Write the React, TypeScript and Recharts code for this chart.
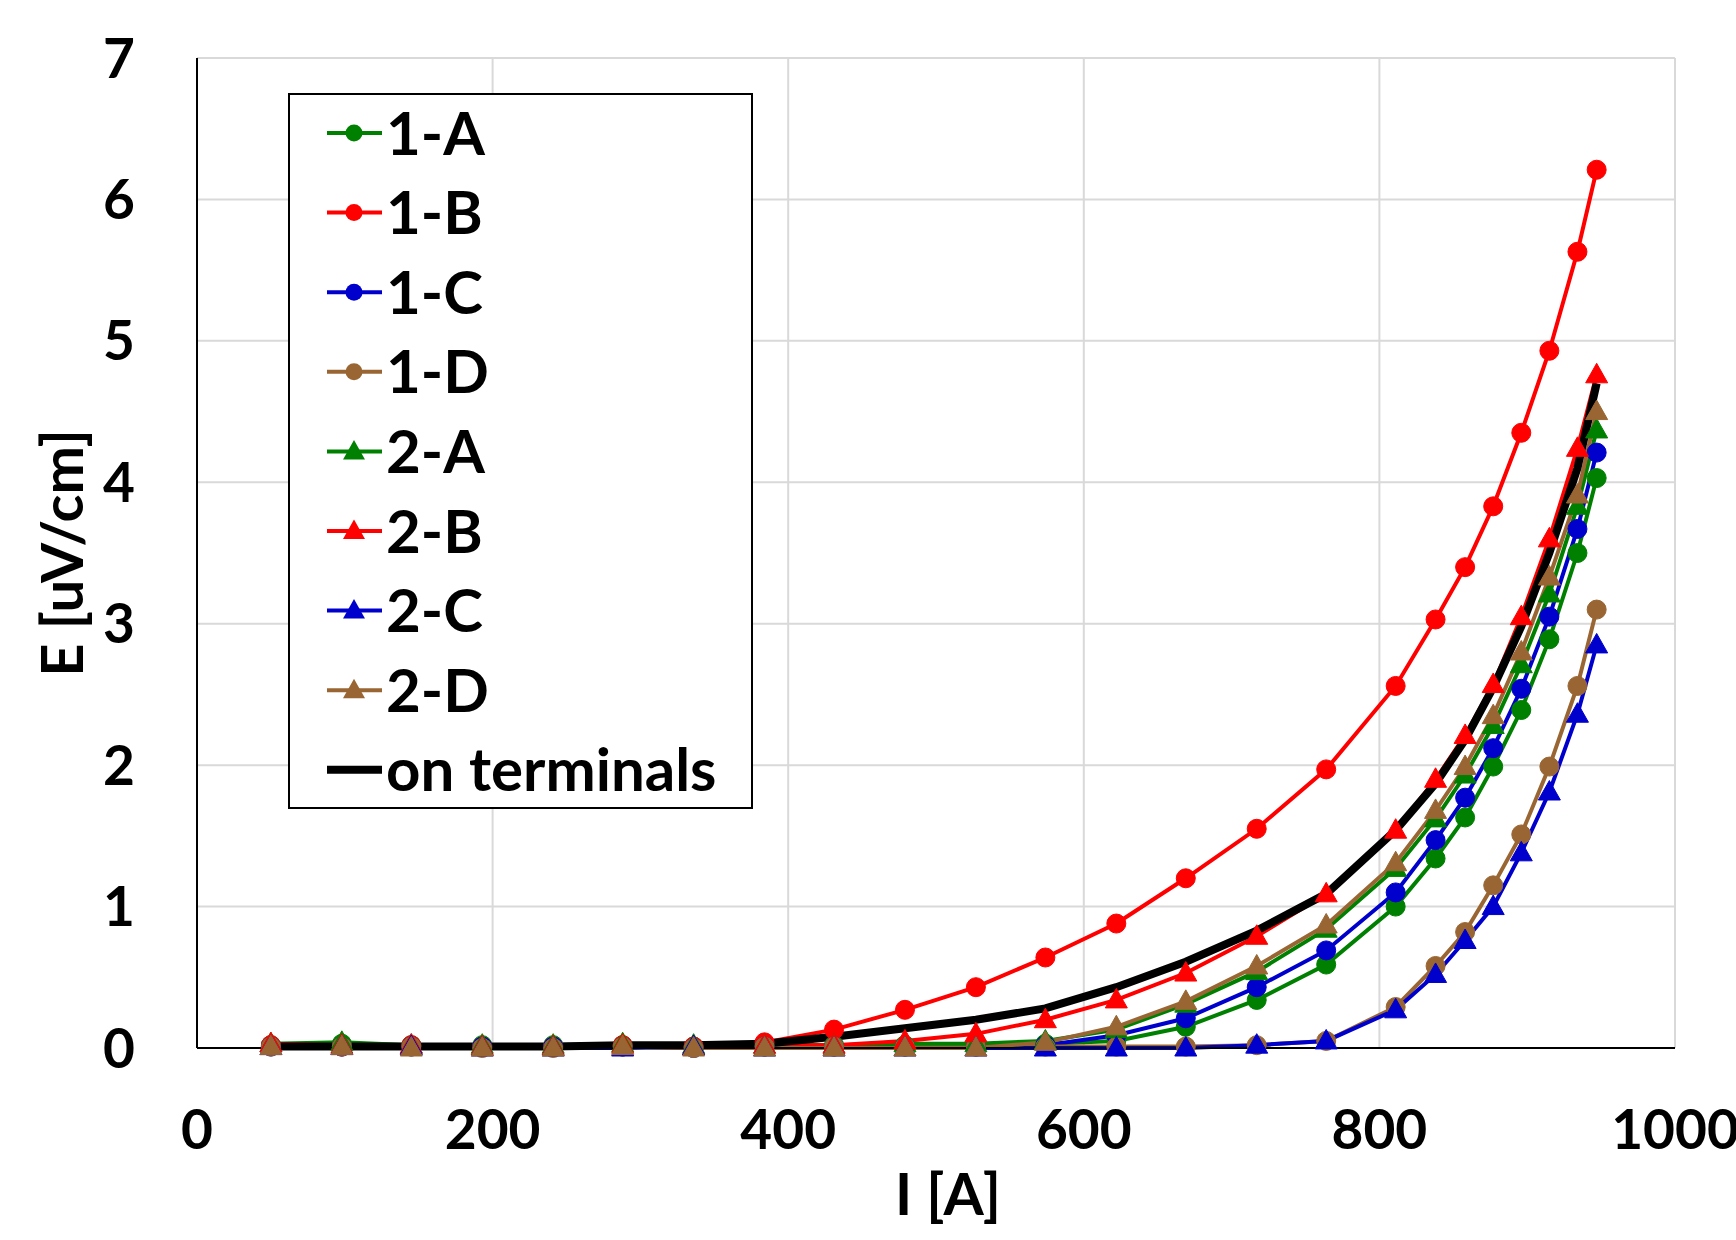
import React from 'react';
import { LineChart, Line, XAxis, YAxis, CartesianGrid, Legend, Label } from 'recharts';

const FONT = 'Lato, "Open Sans", sans-serif';

// Current I [A]
const CURRENT = [50, 98, 145, 193, 241, 288, 336, 384, 431, 479, 527, 574, 622, 669, 717, 764, 811, 838, 858, 877, 896, 915, 934, 947];

// Electric field E [uV/cm]
const E_1A = [0.02, 0.03, 0.02, 0.02, 0.02, 0.02, 0.01, 0.02, 0.02, 0.02, 0.02, 0.03, 0.05, 0.15, 0.34, 0.59, 1.0, 1.34, 1.63, 1.99, 2.39, 2.89, 3.5, 4.03];
const E_1B = [0.02, 0.01, 0.02, 0.01, 0.01, 0.02, 0.01, 0.04, 0.13, 0.27, 0.43, 0.64, 0.88, 1.2, 1.55, 1.97, 2.56, 3.03, 3.4, 3.83, 4.35, 4.93, 5.63, 6.21];
const E_1C = [0.01, 0.01, 0.01, 0.01, 0.01, 0.01, 0.0, 0.01, 0.01, 0.01, 0.01, 0.02, 0.09, 0.21, 0.43, 0.69, 1.1, 1.47, 1.77, 2.12, 2.54, 3.05, 3.67, 4.21];
const E_1D = [0.01, 0.01, 0.01, 0.0, 0.0, 0.01, 0.0, 0.01, 0.01, 0.01, 0.01, 0.01, 0.01, 0.01, 0.02, 0.05, 0.29, 0.58, 0.82, 1.15, 1.51, 1.99, 2.56, 3.1];
const E_2A = [0.03, 0.04, 0.02, 0.02, 0.02, 0.03, 0.02, 0.02, 0.02, 0.03, 0.03, 0.05, 0.13, 0.31, 0.54, 0.84, 1.27, 1.62, 1.93, 2.28, 2.71, 3.21, 3.83, 4.37];
const E_2B = [0.03, 0.02, 0.02, 0.01, 0.01, 0.02, 0.01, 0.02, 0.02, 0.05, 0.1, 0.2, 0.34, 0.53, 0.79, 1.09, 1.54, 1.9, 2.21, 2.57, 3.05, 3.6, 4.24, 4.76];
const E_2C = [0.01, 0.01, 0.01, 0.0, 0.0, 0.0, 0.01, 0.0, 0.0, 0.0, 0.0, 0.0, 0.0, 0.0, 0.02, 0.05, 0.27, 0.52, 0.76, 1.0, 1.38, 1.81, 2.36, 2.85];
const E_2D = [0.01, 0.01, 0.0, 0.0, 0.0, 0.01, 0.0, 0.0, 0.0, 0.0, 0.0, 0.04, 0.15, 0.33, 0.58, 0.87, 1.31, 1.68, 1.99, 2.35, 2.8, 3.33, 3.91, 4.5];
const E_TERM = [0.01, 0.01, 0.01, 0.01, 0.01, 0.02, 0.02, 0.03, 0.08, 0.14, 0.2, 0.28, 0.43, 0.61, 0.83, 1.09, 1.54, 1.87, 2.18, 2.55, 2.98, 3.5, 4.1, 4.7];

const X_TICKS = [0, 200, 400, 600, 800, 1000];
const Y_TICKS = [0, 1, 2, 3, 4, 5, 6, 7];

const GREEN = '#008000';
const RED = '#FF0000';
const BLUE = '#0000CC';
const BROWN = '#996633';

type Shape = 'circle' | 'triangle' | 'none';
const SERIES: { key: string; name: string; color: string; shape: Shape; values: number[] }[] = [
  { key: 's1A', name: '1-A', color: GREEN, shape: 'circle', values: E_1A },
  { key: 's1B', name: '1-B', color: RED, shape: 'circle', values: E_1B },
  { key: 's1C', name: '1-C', color: BLUE, shape: 'circle', values: E_1C },
  { key: 's1D', name: '1-D', color: BROWN, shape: 'circle', values: E_1D },
  { key: 's2A', name: '2-A', color: GREEN, shape: 'triangle', values: E_2A },
  { key: 's2B', name: '2-B', color: RED, shape: 'triangle', values: E_2B },
  { key: 's2C', name: '2-C', color: BLUE, shape: 'triangle', values: E_2C },
  { key: 's2D', name: '2-D', color: BROWN, shape: 'triangle', values: E_2D },
  { key: 'term', name: 'on terminals', color: '#000000', shape: 'none', values: E_TERM },
];

const data = CURRENT.map((x, i) => {
  const row: Record<string, number> = { x };
  SERIES.forEach((s) => {
    row[s.key] = s.values[i];
  });
  return row;
});

const triPoints = (cx: number, cy: number) =>
  `${cx},${cy - 11.5} ${cx - 11},${cy + 8} ${cx + 11},${cy + 8}`;

const triangleDot = (color: string) => (props: any) => {
  const { cx, cy, index } = props;
  if (cx == null || cy == null) return <g key={`t-${index}`} />;
  return <polygon key={`t-${index}`} points={triPoints(cx, cy)} fill={color} stroke={color} strokeWidth={1} />;
};

const LEG_W = 465;
const LEG_H = 716;
const LEG_FS = 60;

const renderLegend = () => (
  <svg width={LEG_W} height={LEG_H} style={{ display: 'block' }}>
    <rect x={1} y={1} width={LEG_W - 2} height={LEG_H - 2} fill="#ffffff" stroke="#000000" strokeWidth={2} />
    {SERIES.map((s, i) => {
      const cy = 40 + i * 79.6;
      return (
        <g key={s.key}>
          <line x1={39} x2={94} y1={cy} y2={cy} stroke={s.color} strokeWidth={s.shape === 'none' ? 8 : 4} />
          {s.shape === 'circle' && <circle cx={66} cy={cy} r={8.5} fill={s.color} />}
          {s.shape === 'triangle' && <polygon points={triPoints(66, cy)} fill={s.color} />}
          <text
            x={98}
            y={cy + LEG_FS * 0.36}
            fontFamily={FONT}
            fontWeight={700}
            fontSize={LEG_FS}
            fill="#000000"
          >
            {s.name}
          </text>
        </g>
      );
    })}
  </svg>
);

const tickStyle = { fill: '#000000', fontSize: 55, fontWeight: 700, fontFamily: FONT };

export default function App() {
  return (
    <div style={{ position: 'absolute', left: 0, top: 0, width: 1736, height: 1240, background: '#ffffff' }}>
      <LineChart
        width={1736}
        height={1240}
        data={data}
        margin={{ top: 58, right: 61, left: 0, bottom: 0 }}
      >
        <CartesianGrid stroke="#d9d9d9" strokeWidth={2} />
        <XAxis
          type="number"
          dataKey="x"
          domain={[0, 1000]}
          ticks={X_TICKS}
          height={192}
          tickSize={0}
          tickMargin={62}
          axisLine={{ stroke: '#000000', strokeWidth: 2 }}
          tickLine={false}
          tick={tickStyle}
          interval={0}
        >
          <Label
            content={(props: any) => {
              const vb = props.viewBox || { x: 197, y: 1048, width: 1478, height: 192 };
              return (
                <text
                  x={vb.x + vb.width / 2 + 12}
                  y={vb.y + 167}
                  textAnchor="middle"
                  fontFamily={FONT}
                  fontWeight={700}
                  fontSize={58}
                  fill="#000000"
                >
                  I [A]
                </text>
              );
            }}
          />
        </XAxis>
        <YAxis
          type="number"
          domain={[0, 7]}
          ticks={Y_TICKS}
          width={197}
          tickSize={0}
          tickMargin={62}
          axisLine={{ stroke: '#000000', strokeWidth: 2 }}
          tickLine={false}
          tick={tickStyle}
          interval={0}
        >
          <Label
            content={(props: any) => {
              const vb = props.viewBox || { x: 0, y: 58, width: 197, height: 990 };
              const cx = vb.x + 83;
              const cy = vb.y + vb.height / 2;
              return (
                <text
                  x={cx}
                  y={cy}
                  transform={`rotate(-90 ${cx} ${cy})`}
                  textAnchor="middle"
                  fontFamily={FONT}
                  fontWeight={700}
                  fontSize={58}
                  fill="#000000"
                >
                  E [uV/cm]
                </text>
              );
            }}
          />
        </YAxis>
        <Legend
          layout="vertical"
          align="center"
          verticalAlign="middle"
          content={renderLegend}
          wrapperStyle={{ left: 288, top: 93, width: LEG_W, height: LEG_H, margin: 0, padding: 0, lineHeight: 0 }}
        />
        {SERIES.map((s) =>
          s.shape === 'none' ? (
            <Line
              key={s.key}
              type="linear"
              dataKey={s.key}
              name={s.name}
              stroke={s.color}
              strokeWidth={8}
              dot={false}
              activeDot={false}
              isAnimationActive={false}
            />
          ) : s.shape === 'circle' ? (
            <Line
              key={s.key}
              type="linear"
              dataKey={s.key}
              name={s.name}
              stroke={s.color}
              strokeWidth={4}
              dot={{ r: 9.5, fill: s.color, stroke: s.color, strokeWidth: 1 }}
              activeDot={false}
              isAnimationActive={false}
            />
          ) : (
            <Line
              key={s.key}
              type="linear"
              dataKey={s.key}
              name={s.name}
              stroke={s.color}
              strokeWidth={4}
              dot={triangleDot(s.color)}
              activeDot={false}
              isAnimationActive={false}
            />
          )
        )}
      </LineChart>
    </div>
  );
}
